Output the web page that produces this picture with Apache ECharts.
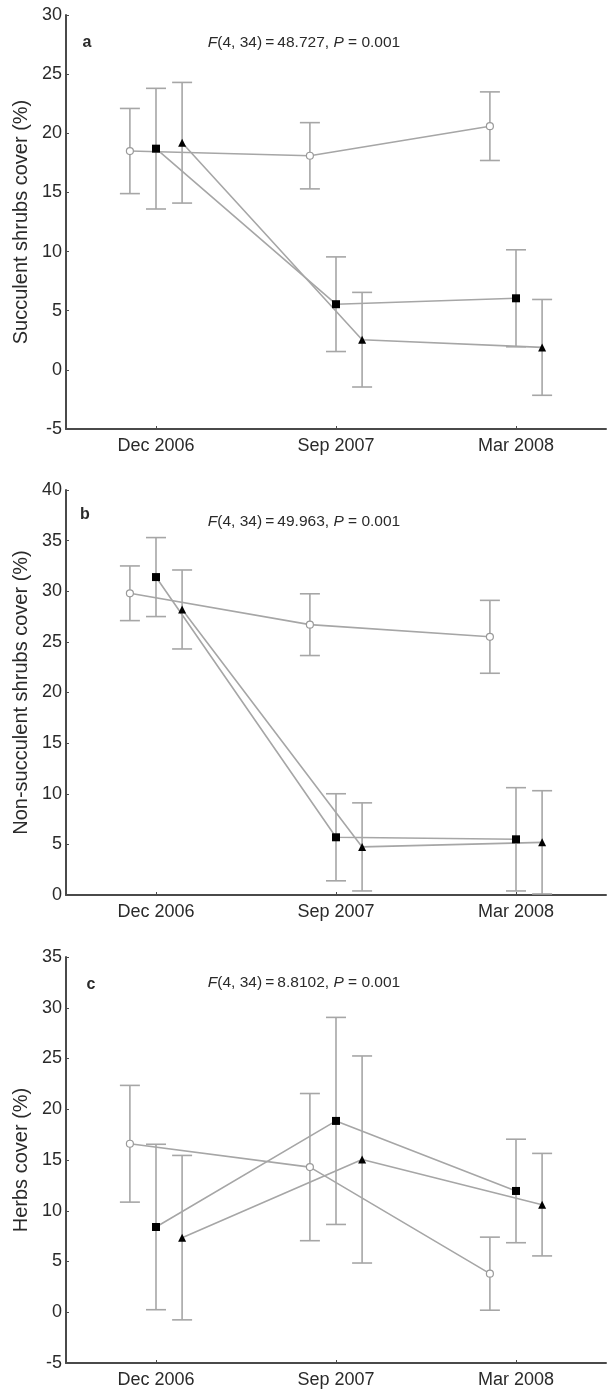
<!DOCTYPE html>
<html>
<head>
<meta charset="utf-8">
<script src="https://cdn.jsdelivr.net/npm/echarts@6/dist/echarts.min.js"></script>
<style>html,body{margin:0;padding:0;background:#fff}#c{width:608px;height:1390px}</style>
</head>
<body>
<div id="c"></div>
<script>
var categories = ['Dec 2006', 'Sep 2007', 'Mar 2008'];

// Panel a: succulent shrubs cover (%)
var aCircleMean = [18.5, 18.1, 20.6];
var aCircleErr  = [3.6, 2.8, 2.9];
var aSquareMean = [18.7, 5.55, 6.05];
var aSquareErr  = [5.1, 4.0, 4.1];
var aTriMean    = [19.2, 2.55, 1.9];
var aTriErr     = [5.1, 4.0, 4.05];

// Panel b: non-succulent shrubs cover (%)
var bCircleMean = [29.8, 26.7, 25.5];
var bCircleErr  = [2.7, 3.05, 3.6];
var bSquareMean = [31.4, 5.7, 5.5];
var bSquareErr  = [3.9, 4.3, 5.1];
var bTriMean    = [28.2, 4.75, 5.2];
var bTriErr     = [3.9, 4.35, 5.1];

// Panel c: herbs cover (%)
var cCircleMean = [16.6, 14.3, 3.8];
var cCircleErr  = [5.75, 7.25, 3.6];
var cSquareMean = [8.4, 18.85, 11.95];
var cSquareErr  = [8.15, 10.2, 5.1];
var cTriMean    = [7.35, 15.05, 10.6];
var cTriErr     = [8.1, 10.2, 5.05];

var yNames = ['Succulent shrubs cover (%)', 'Non-succulent shrubs cover (%)', 'Herbs cover (%)'];
var yMin = [-5, 0, -5];
var yMax = [30, 40, 35];
var panelLetters = ['a', 'b', 'c'];
var statTexts = [
  ['F', '(4, 34)\u2009=\u200948.727, ', 'P', ' = 0.001'],
  ['F', '(4, 34)\u2009=\u200949.963, ', 'P', ' = 0.001'],
  ['F', '(4, 34)\u2009=\u20098.8102, ', 'P', ' = 0.001']
];

var panels = [
  [[aCircleMean, aCircleErr], [aSquareMean, aSquareErr], [aTriMean, aTriErr]],
  [[bCircleMean, bCircleErr], [bSquareMean, bSquareErr], [bTriMean, bTriErr]],
  [[cCircleMean, cCircleErr], [cSquareMean, cSquareErr], [cTriMean, cTriErr]]
];

var gridTops = [15, 490, 957];
var gridHeights = [414, 405, 406];
var offsets = [-0.145, 0, 0.145];
var GRAY = '#a6a6a6';
var AXIS = '#4a4a4a';
var TXT = '#2a2a2a';
var FONT = 'Liberation Sans, Arial, sans-serif';

var markerStyles = [
  {symbol: 'circle', symbolSize: 7, itemStyle: {color: '#fff', borderColor: '#9a9a9a', borderWidth: 1.2}},
  {symbol: 'rect', symbolSize: 8, itemStyle: {color: '#000', borderWidth: 0}},
  {symbol: 'triangle', symbolSize: 8, itemStyle: {color: '#000', borderWidth: 0}}
];

var grid = [], xAxis = [], yAxis = [], series = [], graphic = [];

panels.forEach(function (groups, p) {
  grid.push({left: 66, right: 2, top: gridTops[p], height: gridHeights[p]});
  xAxis.push({
    type: 'category', gridIndex: p, data: categories, boundaryGap: true,
    axisLine: {show: true, onZero: false, lineStyle: {color: AXIS, width: 2}},
    axisTick: {show: true, inside: true, length: 3, alignWithLabel: true, lineStyle: {color: AXIS}},
    axisLabel: {color: TXT, fontSize: 18, fontFamily: FONT, margin: 8},
    splitLine: {show: false}
  });
  xAxis.push({
    type: 'value', gridIndex: p, min: -0.5, max: 2.5, show: false,
    axisLine: {onZero: false}, splitLine: {show: false}
  });
  yAxis.push({
    type: 'value', gridIndex: p, min: yMin[p], max: yMax[p], interval: 5,
    name: yNames[p], nameLocation: 'middle', nameGap: 32, nameRotate: 90,
    nameTextStyle: {color: TXT, fontSize: 20, fontFamily: FONT},
    axisLine: {show: true, onZero: false, lineStyle: {color: AXIS, width: 2}},
    axisTick: {show: true, inside: true, length: 3, lineStyle: {color: AXIS}},
    axisLabel: {color: TXT, fontSize: 18, fontFamily: FONT, margin: 4},
    splitLine: {show: false}
  });

  var xIdx = p * 2 + 1;
  groups.forEach(function (g, s) {
    var mean = g[0], err = g[1];
    var errData = mean.map(function (m, i) { return [i + offsets[s], m - err[i], m + err[i]]; });
    series.push({
      type: 'custom', xAxisIndex: xIdx, yAxisIndex: p, z: 1, silent: true,
      data: errData,
      renderItem: function (params, api) {
        var x = api.value(0);
        var lo = api.coord([x, api.value(1)]);
        var hi = api.coord([x, api.value(2)]);
        var hw = 10;
        var st = {stroke: GRAY, lineWidth: 1.6, fill: null};
        return {type: 'group', children: [
          {type: 'line', shape: {x1: lo[0], y1: lo[1], x2: hi[0], y2: hi[1]}, style: st},
          {type: 'line', shape: {x1: lo[0] - hw, y1: lo[1], x2: lo[0] + hw, y2: lo[1]}, style: st},
          {type: 'line', shape: {x1: hi[0] - hw, y1: hi[1], x2: hi[0] + hw, y2: hi[1]}, style: st}
        ]};
      }
    });
    var ms = markerStyles[s];
    series.push({
      type: 'line', xAxisIndex: xIdx, yAxisIndex: p, z: 3, silent: true,
      data: mean.map(function (m, i) { return [i + offsets[s], m]; }),
      symbol: ms.symbol, symbolSize: ms.symbolSize, showSymbol: true,
      lineStyle: {color: GRAY, width: 1.6},
      itemStyle: ms.itemStyle,
      animation: false
    });
  });

  var letterY = [43, 515, 985][p];
  var statY = [43, 522, 983][p];
  graphic.push({
    type: 'text', x: [87, 85, 91][p], y: letterY, z: 10,
    style: {text: panelLetters[p], fill: TXT, font: 'bold 16px ' + FONT, align: 'center', verticalAlign: 'middle'}
  });
  var st = statTexts[p];
  graphic.push({
    type: 'text', x: 304, y: statY, z: 10,
    style: {
      text: '{i|' + st[0] + '}{n|' + st[1] + '}{i|' + st[2] + '}{n|' + st[3] + '}',
      align: 'center', verticalAlign: 'middle',
      rich: {
        i: {fontStyle: 'italic', fontSize: 15.5, fontFamily: FONT, fill: TXT},
        n: {fontSize: 15.5, fontFamily: FONT, fill: TXT}
      }
    }
  });
});

var chart = echarts.init(document.getElementById('c'), null, {renderer: 'canvas'});
chart.setOption({
  animation: false,
  backgroundColor: '#fff',
  grid: grid, xAxis: xAxis, yAxis: yAxis, series: series, graphic: graphic
});
</script>
</body>
</html>
